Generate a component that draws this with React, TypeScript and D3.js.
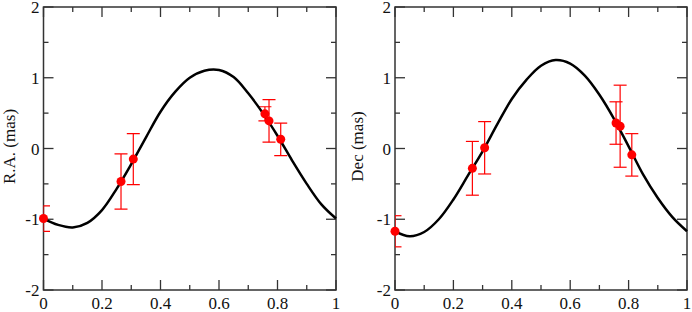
import { useEffect, useRef } from 'react'
import * as d3 from 'd3'

// ─── Data ────────────────────────────────────────────────────────────────────

const phases = [0, 0.265, 0.307, 0.757, 0.771, 0.811]
const raValues = [-0.99, -0.466, -0.15, 0.49, 0.39, 0.13]
const raErrors = [0.18, 0.39, 0.36, 0.1, 0.3, 0.23]
const decValues = [-1.17, -0.28, 0.01, 0.36, 0.315, -0.09]
const decErrors = [0.22, 0.38, 0.37, 0.3, 0.58, 0.3]

// model orbit, sampled from the plotted curve
const curvePhases = [0, 0.05, 0.1, 0.15, 0.2, 0.25, 0.3, 0.35, 0.4, 0.45, 0.5, 0.55, 0.6, 0.65, 0.7, 0.75, 0.8, 0.85, 0.9, 0.95, 1]
const raCurve = [-0.99, -1.08, -1.115, -1.05, -0.87, -0.57, -0.22, 0.155, 0.52, 0.8, 1.0, 1.1, 1.11, 1.01, 0.78, 0.5, 0.18, -0.17, -0.5, -0.79, -0.99]
const decCurve = [-1.17, -1.24, -1.18, -1.0, -0.72, -0.38, -0.04, 0.34, 0.7, 0.97, 1.17, 1.25, 1.2, 1.03, 0.76, 0.42, 0.03, -0.37, -0.7, -0.97, -1.17]

const xTicks = [0, 0.2, 0.4, 0.6, 0.8, 1]
const xMinor = [0.1, 0.3, 0.5, 0.7, 0.9]
const yTicks = [-2, -1, 0, 1, 2]
const yMinor = [-1.5, -0.5, 0.5, 1.5]

const FONT = '"Liberation Serif", "DejaVu Serif", serif'
const FRAME = '#333'
const RED = '#ff0000'

interface PanelProps {
  left: number
  right: number
  labelX: number
  label: string
  values: number[]
  errors: number[]
  curve: number[]
  id: string
}

const TOP = 7
const BOTTOM = 290

function drawPanel(g: d3.Selection<SVGGElement, unknown, null, undefined>, p: PanelProps) {
  const x = d3.scaleLinear().domain([0, 1]).range([p.left, p.right])
  const y = d3.scaleLinear().domain([-2, 2]).range([BOTTOM, TOP])

  g.append('clipPath')
    .attr('id', `clip-${p.id}`)
    .append('rect')
    .attr('x', p.left)
    .attr('y', TOP)
    .attr('width', p.right - p.left)
    .attr('height', BOTTOM - TOP)

  // frame
  g.append('rect')
    .attr('x', p.left)
    .attr('y', TOP)
    .attr('width', p.right - p.left)
    .attr('height', BOTTOM - TOP)
    .attr('fill', 'none')
    .attr('stroke', FRAME)
    .attr('stroke-width', 1.5)

  // inward ticks on all four sides
  const tk = g.append('g').attr('stroke', FRAME).attr('stroke-width', 1.3)
  const xt = [...xTicks.map((v) => ({ v, len: 10 })), ...xMinor.map((v) => ({ v, len: 5 }))]
  const yt = [...yTicks.map((v) => ({ v, len: 10 })), ...yMinor.map((v) => ({ v, len: 5 }))]
  xt.forEach(({ v, len }) => {
    tk.append('line').attr('x1', x(v)).attr('x2', x(v)).attr('y1', BOTTOM).attr('y2', BOTTOM - len)
    tk.append('line').attr('x1', x(v)).attr('x2', x(v)).attr('y1', TOP).attr('y2', TOP + len)
  })
  yt.forEach(({ v, len }) => {
    tk.append('line').attr('x1', p.left).attr('x2', p.left + len).attr('y1', y(v)).attr('y2', y(v))
    tk.append('line').attr('x1', p.right).attr('x2', p.right - len).attr('y1', y(v)).attr('y2', y(v))
  })

  // tick labels
  g.selectAll('.xl')
    .data(xTicks)
    .join('text')
    .attr('x', (d) => x(d))
    .attr('y', 308.5)
    .attr('text-anchor', 'middle')
    .attr('font-size', 17)
    .style('font-family', FONT)
    .attr('fill', '#111')
    .text((d) => String(d))

  g.selectAll('.yl')
    .data(yTicks)
    .join('text')
    .attr('x', p.left - 4)
    .attr('y', (d) => y(d) + 6)
    .attr('text-anchor', 'end')
    .attr('font-size', 17)
    .style('font-family', FONT)
    .attr('fill', '#111')
    .text((d) => String(d))

  // axis title
  g.append('text')
    .attr('transform', `translate(${p.labelX},${(TOP + BOTTOM) / 2 - 2}) rotate(-90)`)
    .attr('text-anchor', 'middle')
    .attr('font-size', 17)
    .style('font-family', FONT)
    .attr('fill', '#111')
    .text(p.label)

  // error bars (clipped to the plot area)
  const eb = g.append('g').attr('clip-path', `url(#clip-${p.id})`).attr('stroke', RED).attr('stroke-width', 1.2)
  phases.forEach((ph, i) => {
    const cx = x(ph)
    const hi = y(p.values[i] + p.errors[i])
    const lo = y(p.values[i] - p.errors[i])
    eb.append('line').attr('x1', cx).attr('x2', cx).attr('y1', hi).attr('y2', lo)
    eb.append('line').attr('x1', cx - 6.5).attr('x2', cx + 6.5).attr('y1', hi).attr('y2', hi)
    eb.append('line').attr('x1', cx - 6.5).attr('x2', cx + 6.5).attr('y1', lo).attr('y2', lo)
  })

  // model curve
  const line = d3
    .line<number>()
    .x((_, i) => x(curvePhases[i]))
    .y((d) => y(d))
    .curve(d3.curveCatmullRom.alpha(0.5))
  g.append('path')
    .attr('d', line(p.curve))
    .attr('fill', 'none')
    .attr('stroke', '#000')
    .attr('stroke-width', 2.5)

  // points
  g.selectAll('.pt')
    .data(phases)
    .join('circle')
    .attr('cx', (d) => x(d))
    .attr('cy', (_, i) => y(p.values[i]))
    .attr('r', 4.5)
    .attr('fill', RED)
}

export default function App() {
  const ref = useRef<SVGSVGElement>(null)

  useEffect(() => {
    if (!ref.current) return
    const svg = d3.select(ref.current)
    svg.selectAll('*').remove()
    svg.append('rect').attr('width', 692).attr('height', 312).attr('fill', '#fff')
    drawPanel(svg.append('g'), {
      id: 'ra',
      left: 43.5,
      right: 336,
      labelX: 15,
      label: 'R.A. (mas)',
      values: raValues,
      errors: raErrors,
      curve: raCurve,
    })
    drawPanel(svg.append('g'), {
      id: 'dec',
      left: 395,
      right: 687,
      labelX: 363,
      label: 'Dec (mas)',
      values: decValues,
      errors: decErrors,
      curve: decCurve,
    })
  }, [])

  return (
    <div style={{ position: 'fixed', left: 0, top: 0 }}>
      <svg ref={ref} width={692} height={312} style={{ display: 'block' }} />
    </div>
  )
}
